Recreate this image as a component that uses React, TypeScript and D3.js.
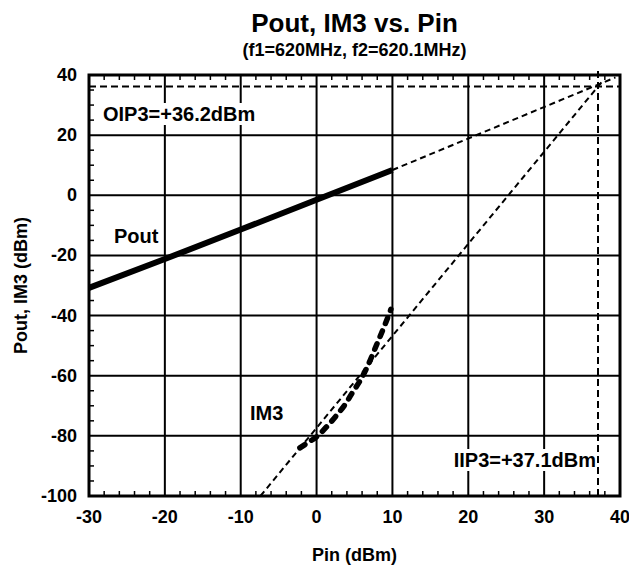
import React from "react";
import * as d3 from "d3";

const xTicks = [-30, -20, -10, 0, 10, 20, 30, 40];
const yTicks = [40, 20, 0, -20, -40, -60, -80, -100];

const poutPin = [-30, -20, -10, 0, 10];
const poutVal = [-30.8, -21.2, -11.4, -1.5, 8.4];

const poutExtPin = [10, 39.4];
const poutExtVal = [8.4, 39.2];

const im3Pin = [-2.2, -1, 0, 1.5, 2.7, 3.8, 4.8, 5.8, 6.6, 7.9, 9.0, 9.8];
const im3Val = [-84, -82, -80.3, -76.5, -73, -69.4, -65.3, -61.4, -57.5, -49.8, -43.1, -37.9];

const im3ExtPin = [-7.4, 37.6];
const im3ExtVal = [-100, 37.7];

const OIP3 = 36.2;
const IIP3 = 37.1;

const W = 629;
const H = 569;
const L = 89, R = 620, T = 75, B = 496;

function Label({ x, y, anchor, size, text }: { x: number; y: number; anchor: string; size: number; text: string }) {
  const ref = React.useRef<SVGTextElement>(null);
  const [box, setBox] = React.useState<{ x: number; y: number; w: number; h: number } | null>(null);
  React.useLayoutEffect(() => {
    if (ref.current) {
      const b = ref.current.getBBox();
      setBox({ x: b.x, y: b.y, w: b.width, h: b.height });
    }
  }, [x, y, text, size]);
  return (
    <g>
      {box && <rect x={box.x - 2} y={box.y} width={box.w + 4} height={box.h} fill="#fff" />}
      <text ref={ref} x={x} y={y} textAnchor={anchor} fontSize={size}>{text}</text>
    </g>
  );
}

export default function App() {
  const x = d3.scaleLinear().domain([-30, 40]).range([L, R]);
  const y = d3.scaleLinear().domain([-100, 40]).range([B, T]);
  const line = d3.line<[number, number]>().x(d => x(d[0])).y(d => y(d[1]));
  const curve = d3.line<[number, number]>().x(d => x(d[0])).y(d => y(d[1])).curve(d3.curveMonotoneX);

  const xMinor = d3.range(-30, 40.01, 2).filter(v => v % 10 !== 0);
  const yMinor = d3.range(-100, 40.01, 5).filter(v => v % 20 !== 0);

  const font = "Arial, 'Liberation Sans', sans-serif";
  const pout = poutPin.map((p, i) => [p, poutVal[i]] as [number, number]);
  const poutExt = poutExtPin.map((p, i) => [p, poutExtVal[i]] as [number, number]);
  const im3 = im3Pin.map((p, i) => [p, im3Val[i]] as [number, number]);
  const im3Ext = im3ExtPin.map((p, i) => [p, im3ExtVal[i]] as [number, number]);

  return (
    <svg width={W} height={H} style={{ position: "absolute", left: 0, top: 0, background: "#fff" }} fontFamily={font} fontWeight="bold">
      <rect x={0} y={0} width={W} height={H} fill="#fff" />
      <text x={(L + R) / 2} y={32} textAnchor="middle" fontSize={26}>Pout, IM3 vs. Pin</text>
      <text x={(L + R) / 2} y={56} textAnchor="middle" fontSize={18}>(f1=620MHz, f2=620.1MHz)</text>

      {xTicks.slice(1, -1).map(v => (
        <line key={"gx" + v} x1={x(v)} x2={x(v)} y1={T} y2={B} stroke="#000" strokeWidth={2} />
      ))}
      {yTicks.slice(1, -1).map(v => (
        <line key={"gy" + v} x1={L} x2={R} y1={y(v)} y2={y(v)} stroke="#000" strokeWidth={2} />
      ))}
      {xMinor.map(v => (
        <g key={"mx" + v}>
          <line x1={x(v)} x2={x(v)} y1={B} y2={B - 5} stroke="#000" strokeWidth={1.5} />
          <line x1={x(v)} x2={x(v)} y1={T} y2={T + 5} stroke="#000" strokeWidth={1.5} />
        </g>
      ))}
      {yMinor.map(v => (
        <line key={"my" + v} x1={L} x2={L + 5} y1={y(v)} y2={y(v)} stroke="#000" strokeWidth={1.5} />
      ))}

      <Label x={103} y={121} anchor="start" size={20} text="OIP3=+36.2dBm" />
      <Label x={114} y={243} anchor="start" size={20} text="Pout" />
      <Label x={250} y={420} anchor="start" size={20} text="IM3" />
      <Label x={596} y={467} anchor="end" size={20} text="IIP3=+37.1dBm" />

      <line x1={L} x2={R} y1={y(OIP3)} y2={y(OIP3)} stroke="#000" strokeWidth={2} strokeDasharray="7 4" />
      <line x1={x(IIP3)} x2={x(IIP3)} y1={T - 4} y2={B} stroke="#000" strokeWidth={2} strokeDasharray="7 4" />
      <path d={line(poutExt) || ""} fill="none" stroke="#000" strokeWidth={2} strokeDasharray="6 4" />
      <path d={line(im3Ext) || ""} fill="none" stroke="#000" strokeWidth={2} strokeDasharray="6 4" />

      <path d={line(pout) || ""} fill="none" stroke="#000" strokeWidth={6} />
      <path d={curve(im3) || ""} fill="none" stroke="#000" strokeWidth={5.5} strokeDasharray="6 8" strokeLinecap="round" />

      <rect x={L} y={T} width={R - L} height={B - T} fill="none" stroke="#000" strokeWidth={3} />

      {xTicks.map(v => (
        <text key={"tx" + v} x={x(v)} y={523} textAnchor="middle" fontSize={18}>{v}</text>
      ))}
      {yTicks.map(v => (
        <text key={"ty" + v} x={L - 12} y={y(v) + 6} textAnchor="end" fontSize={18}>{v}</text>
      ))}
      <text x={(L + R) / 2} y={561} textAnchor="middle" fontSize={18}>Pin (dBm)</text>
      <text transform={`translate(27, ${(T + B) / 2}) rotate(-90)`} textAnchor="middle" fontSize={18}>Pout, IM3 (dBm)</text>
    </svg>
  );
}
